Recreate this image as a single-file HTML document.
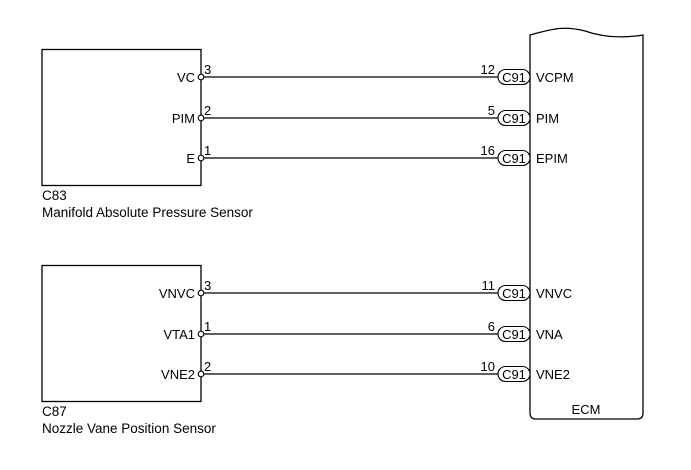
<!DOCTYPE html>
<html><head><style>body{margin:0;background:#fff}</style></head><body>
<svg width="691" height="465" viewBox="0 0 691 465" xmlns="http://www.w3.org/2000/svg" font-family="Liberation Sans, sans-serif" font-size="13" fill="#000">
<g stroke="#000" stroke-width="1.3" fill="none">
<rect x="42" y="49.5" width="159" height="136"/>
<rect x="42" y="265.5" width="159" height="136"/>
<path d="M530,35 C555,28 565,26 585,31 C605,38 625,38 643,35 L643,413 Q643,419 637,419 L536,419 Q530,419 530,413 Z"/>
<line x1="204" y1="77" x2="498" y2="77"/>
<line x1="204" y1="118" x2="498" y2="118"/>
<line x1="204" y1="158" x2="498" y2="158"/>
<line x1="204" y1="293" x2="498" y2="293"/>
<line x1="204" y1="334" x2="498" y2="334"/>
<line x1="204" y1="374" x2="498" y2="374"/>
</g>
<g stroke="#000" stroke-width="1.1" fill="#fff">
<circle cx="201" cy="77" r="2.8"/><circle cx="201" cy="118" r="2.8"/><circle cx="201" cy="158" r="2.8"/>
<circle cx="201" cy="293" r="2.8"/><circle cx="201" cy="334" r="2.8"/><circle cx="201" cy="374" r="2.8"/>
<rect x="498" y="69.5" width="32" height="15" rx="7.5"/><rect x="498" y="110.5" width="32" height="15" rx="7.5"/><rect x="498" y="150.5" width="32" height="15" rx="7.5"/>
<rect x="498" y="285.5" width="32" height="15" rx="7.5"/><rect x="498" y="326.5" width="32" height="15" rx="7.5"/><rect x="498" y="366.5" width="32" height="15" rx="7.5"/>
</g>
<g text-anchor="end">
<text x="195" y="82">VC</text><text x="195" y="123">PIM</text><text x="195" y="163">E</text>
<text x="195" y="298">VNVC</text><text x="195" y="339">VTA1</text><text x="195" y="379">VNE2</text>
<text x="495" y="74">12</text><text x="495" y="115">5</text><text x="495" y="155">16</text>
<text x="495" y="290">11</text><text x="495" y="331">6</text><text x="495" y="371">10</text>
</g>
<g>
<text x="204" y="74">3</text><text x="204" y="115">2</text><text x="204" y="155">1</text>
<text x="204" y="290">3</text><text x="204" y="331">1</text><text x="204" y="371">2</text>
<g text-anchor="middle"><text x="514" y="82">C91</text><text x="514" y="123">C91</text><text x="514" y="163">C91</text>
<text x="514" y="298">C91</text><text x="514" y="339">C91</text><text x="514" y="379">C91</text></g>
<text x="536" y="82">VCPM</text><text x="536" y="123">PIM</text><text x="536" y="163">EPIM</text>
<text x="536" y="298">VNVC</text><text x="536" y="339">VNA</text><text x="536" y="379">VNE2</text>
<text x="586" y="414" text-anchor="middle">ECM</text>
<g font-size="13.5"><text x="42" y="200">C83</text><text x="42" y="217">Manifold Absolute Pressure Sensor</text>
<text x="42" y="416">C87</text><text x="42" y="433">Nozzle Vane Position Sensor</text></g>
</g>
</svg>
</body></html>
